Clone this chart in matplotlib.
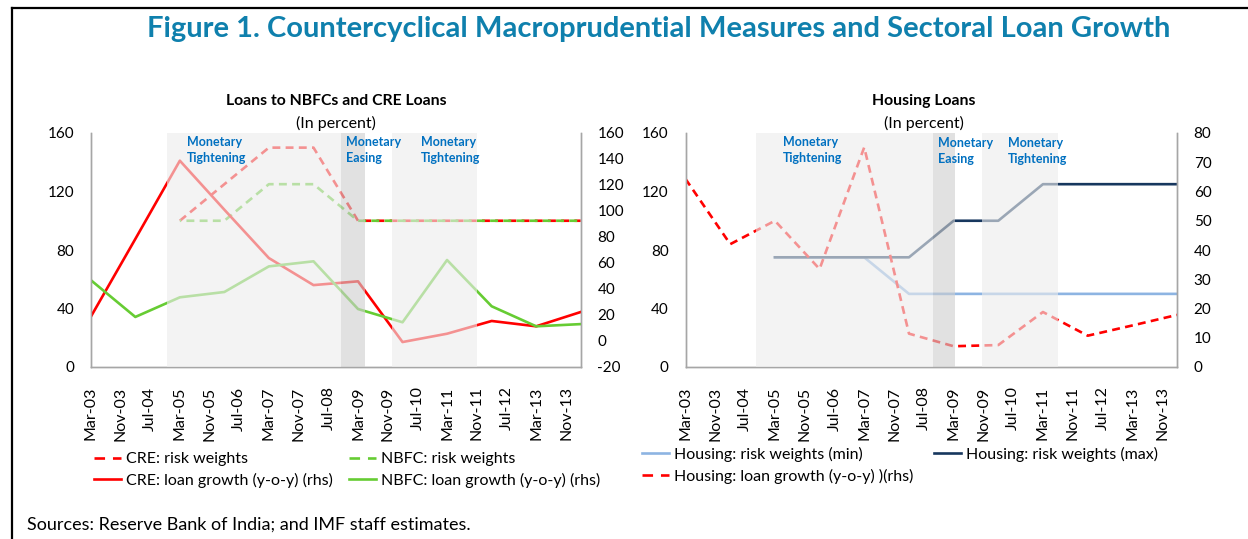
import matplotlib
matplotlib.use("Agg")
import matplotlib.pyplot as plt
import numpy as np
import pandas as pd
from matplotlib.lines import Line2D

plt.rcParams["font.family"] = ["Lato", "DejaVu Sans"]
plt.rcParams["axes.unicode_minus"] = False

# annual observations, March of each year
years = list(range(2003, 2015))

cre_risk_weights = [np.nan, np.nan, 100, 125, 150, 150, 100, 100, 100, 100, 100, 100]
nbfc_risk_weights = [np.nan, np.nan, 100, 100, 125, 125, 100, 100, 100, 100, 100, 100]
cre_loan_growth = [18.5, 78.5, 138.7, 101, 63.8, 43, 45.9, -0.8, 5.6, 15.4, 11.3, 22.3]
nbfc_loan_growth = [46.9, 18.5, 33.6, 37.7, 57.4, 61.3, 24.6, 14.4, 62.3, 26.7, 11.3, 13.0]

housing_rw_min = [np.nan, np.nan, 75, 75, 75, 50, 50, 50, 50, 50, 50, 50]
housing_rw_max = [np.nan, np.nan, 75, 75, 75, 75, 100, 100, 125, 125, 125, 125]
housing_loan_growth = [64.3, 42, 50, 33.5, 75.1, 11.4, 7.1, 7.5, 18.8, 10.7, 14.2, 17.8]

# policy periods (start, end, kind)
left_periods = [("2004-11-18", "2008-10-15", "Tightening"),
                ("2008-10-15", "2009-04-25", "Easing"),
                ("2009-12-01", "2011-11-01", "Tightening")]
right_periods = [("2004-09-25", "2008-09-10", "Tightening"),
                 ("2008-09-15", "2009-03-15", "Easing"),
                 ("2009-10-20", "2011-07-01", "Tightening")]

W, H = 1248, 539
RED = "#ff0000"
GREEN = "#66cc33"
LIGHT_BLUE = "#8db4e2"
NAVY = "#17375e"
SPINE = "#a6a6a6"
TICK_FS = 11
LEGEND_FS = 11.5

dates = pd.to_datetime([f"{y}-03-01" for y in years])
tick_dates = pd.date_range("2003-03-01", "2013-11-01", freq="8MS")


def px(x, y):
    return x / W, 1 - y / H


def _setup_axes(fig, left, right, top, bottom):
    x0, y0 = px(left, bottom)
    ax = fig.add_axes([x0, y0, (right - left) / W, (bottom - top) / H])
    ax2 = ax.twinx()
    for a in (ax, ax2):
        a.spines["top"].set_visible(False)
        for s in ("left", "right", "bottom"):
            a.spines[s].set_color(SPINE)
            a.spines[s].set_linewidth(1.0)
        a.tick_params(length=0, labelsize=TICK_FS, pad=12)
    ax.set_xlim(dates[0], dates[-1])
    ax.set_xticks(tick_dates)
    ax.set_xticklabels([d.strftime("%b-%y") for d in tick_dates], rotation=90, fontsize=11.5)
    ax.tick_params(axis="x", pad=14)
    return ax, ax2


def _shade(ax2, periods, text_pos):
    for (start, end, kind), (tx, ty) in zip(periods, text_pos):
        color = "#cfcfcf" if kind == "Easing" else "#ececec"
        ax2.axvspan(pd.Timestamp(start), pd.Timestamp(end), color=color, alpha=0.62, lw=0, zorder=5)
        ax2.text(tx, ty, f"Monetary\n{kind}", transform=ax2.transAxes, color="#0070c0",
                 fontsize=9, fontweight="bold", ha="left", va="top", linespacing=1.35, zorder=6)


fig = plt.figure(figsize=(W / 100, H / 100), dpi=100)

# frame lines
fig.add_artist(Line2D([12 / W, 12 / W], [0, 1 - 8 / H], transform=fig.transFigure, color="black", lw=1.6))
fig.add_artist(Line2D([12 / W, 1], [1 - 8 / H, 1 - 8 / H], transform=fig.transFigure, color="black", lw=1.6))

fig.text(*px(659, 29), "Figure 1. Countercyclical Macroprudential Measures and Sectoral Loan Growth",
         color="#0f80ad", fontsize=21, fontweight="bold", ha="center", va="center")

# ---- left panel
ax, ax2 = _setup_axes(fig, 90.7, 580.7, 133, 367)
dash = (0, (3, 2))
l1, = ax.plot(dates, cre_risk_weights, color=RED, lw=1.9, linestyle=dash, label="CRE: risk weights")
l2, = ax.plot(dates, nbfc_risk_weights, color=GREEN, lw=1.9, linestyle=(2.5, (3, 2)), label="NBFC: risk weights")
l3, = ax2.plot(dates, cre_loan_growth, color=RED, lw=1.9, label="CRE: loan growth (y-o-y) (rhs)")
l4, = ax2.plot(dates, nbfc_loan_growth, color=GREEN, lw=1.9, label="NBFC: loan growth (y-o-y) (rhs)")
ax.set_ylim(0, 160)
ax.set_yticks(range(0, 161, 40))
ax2.set_ylim(-20, 160)
ax2.set_yticks(range(-20, 161, 20))
_shade(ax2, left_periods, [(0.1965, 0.987), (0.5216, 0.987), (0.674, 0.987)])

fig.text(*px(336, 101), "Loans to NBFCs and CRE Loans", fontsize=11.3, fontweight="bold", ha="center", va="center")
fig.text(*px(336, 123), "(In percent)", fontsize=11.5, ha="center", va="center")

handle_dash = (0, (4, 3))
fig.legend([Line2D([], [], color=RED, lw=1.9, linestyle=handle_dash), l3,
            Line2D([], [], color=GREEN, lw=1.9, linestyle=handle_dash), l4],
           [h.get_label() for h in (l1, l3, l2, l4)], ncol=2,
           loc="upper left", bbox_to_anchor=px(94, 452), frameon=False, fontsize=LEGEND_FS,
           handlelength=1.7, handletextpad=0.3, columnspacing=1.0, labelspacing=0.42,
           borderpad=0, borderaxespad=0)

# ---- right panel
bx, bx2 = _setup_axes(fig, 685.5, 1177, 133, 367)
m1, = bx.plot(dates, housing_rw_min, color=LIGHT_BLUE, lw=1.9, label="Housing: risk weights (min)")
m2, = bx.plot(dates, housing_rw_max, color=NAVY, lw=1.9, label="Housing: risk weights (max)")
m3, = bx2.plot(dates, housing_loan_growth, color=RED, lw=1.9, linestyle=dash,
               label="Housing: loan growth (y-o-y) )(rhs)")
bx.set_ylim(0, 160)
bx.set_yticks(range(0, 161, 40))
bx2.set_ylim(0, 80)
bx2.set_yticks(range(0, 81, 10))
_shade(bx2, right_periods, [(0.198, 0.987), (0.514, 0.981), (0.656, 0.981)])

fig.text(*px(924, 101), "Housing Loans", fontsize=11.3, fontweight="bold", ha="center", va="center")
fig.text(*px(924, 123), "(In percent)", fontsize=11.5, ha="center", va="center")

fig.legend([m1, Line2D([], [], color=RED, lw=1.9, linestyle=handle_dash), m2],
           [h.get_label() for h in (m1, m3, m2)], ncol=2,
           loc="upper left", bbox_to_anchor=px(642, 447), frameon=False, fontsize=LEGEND_FS,
           handlelength=1.7, handletextpad=0.3, columnspacing=1.3, labelspacing=0.42,
           borderpad=0, borderaxespad=0)

fig.text(*px(27, 525), "Sources: Reserve Bank of India; and IMF staff estimates.", fontsize=13,
         ha="left", va="center")

fig.savefig("out.png", dpi=100)
plt.close(fig)
